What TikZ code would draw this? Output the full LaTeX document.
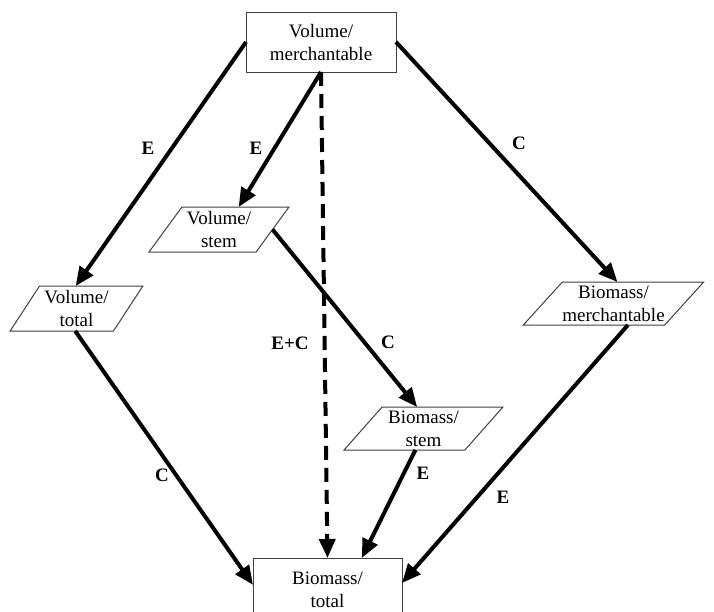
\documentclass[tikz,border=0pt]{standalone}
\usepackage{fontspec}
\setmainfont{Liberation Serif}
\usetikzlibrary{shapes.geometric,arrows.meta,calc}
\begin{document}
\begin{tikzpicture}[x=1pt,y=-1pt,
  box/.style={draw=black!75,line width=1pt,fill=white,inner sep=0pt,outer sep=0pt,align=center,font=\fontsize{19}{23}\selectfont},
  para/.style={box,trapezium,trapezium stretches=true},
  conn/.style={line width=4pt,-{Triangle[length=19pt,width=16pt]}},
  lab/.style={font=\fontsize{19}{23}\selectfont\bfseries}]
\fill[white] (0,0) rectangle (714,611);
\clip (0,0) rectangle (714,611);
\node[box,minimum width=150pt,minimum height=60pt] (vm) at (321,42) {Volume/\\merchantable};
\node[box,minimum width=149pt,minimum height=64pt] (bt) at (327.5,590) {Biomass/\\total};
\node[para,trapezium left angle=55,trapezium right angle=125,minimum width=133pt,minimum height=45pt] (vt) at (76.5,308.5) {Volume/\\total};
\node[para,trapezium left angle=52,trapezium right angle=128,minimum width=140pt,minimum height=45pt] (vs) at (219,229.5) {Volume/\\stem};
\node[para,trapezium left angle=47.8,trapezium right angle=132.2,minimum width=159pt,minimum height=43pt] (bs) at (423.5,428.5) {Biomass/\\stem};
\node[para,trapezium left angle=42.5,trapezium right angle=137.5,minimum width=177pt,minimum height=43pt] (bm) at (613.5,303.5) {Biomass/\\merchantable};

\draw[conn] (vm.west) -- ($(vt.top left corner)!0.35!(vt.top right corner)$);
\draw[conn] (vm.south) -- ($(vs.top left corner)!0.53!(vs.top right corner)$);
\draw[conn,dash pattern=on 14pt off 8pt] (vm.south) -- (bt.north);
\draw[conn] (vm.east) -- ($(bm.top left corner)!0.39!(bm.top right corner)$);
\draw[conn] ($(vs.top right corner)!0.5!(vs.bottom right corner)$) -- ($(bs.top left corner)!0.29!(bs.top right corner)$);
\draw[conn] ($(vt.bottom left corner)!0.63!(vt.bottom right corner)$) -- ($(bt.north west)!0.42!(bt.south west)$);
\draw[conn] ($(bs.bottom left corner)!0.59!(bs.bottom right corner)$) -- ($(bt.north west)!0.73!(bt.north east)$);
\draw[conn] ($(bm.bottom left corner)!0.74!(bm.bottom right corner)$) -- ($(bt.north east)!0.39!(bt.south east)$);

\node[lab] (l1) at (148,148) {E};
\node[lab] (l2) at (256,148) {E};
\node[lab] (l3) at (290,343) {E+C};
\node[lab] (l4) at (519,143) {C};
\node[lab] (l5) at (388,342) {C};
\node[lab] (l6) at (162,475) {C};
\node[lab] (l7) at (423,473) {E};
\node[lab] (l8) at (503,497) {E};
\end{tikzpicture}
\end{document}
